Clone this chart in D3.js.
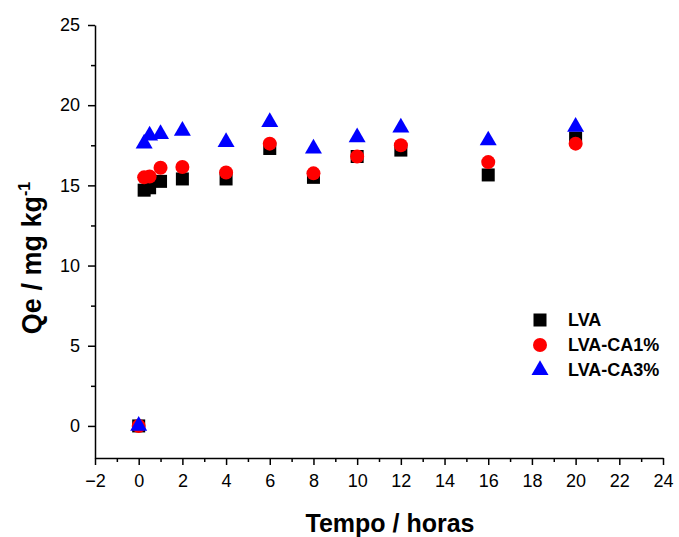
<!DOCTYPE html>
<html>
<head>
<meta charset="utf-8">
<script src="https://cdn.jsdelivr.net/npm/d3@7"></script>
<style>
  body { margin: 0; background: #fff; }
  svg { display: block; font-family: Arial, "Liberation Sans", sans-serif; }
  .axis path, .axis line { stroke: #000; stroke-width: 1.5; }
  .axis text { font-size: 18px; fill: #000; }
</style>
</head>
<body>
<div id="chart"></div>
<script>
// tempo (horas)
const tempo = [0, 0.25, 0.5, 1, 2, 4, 6, 8, 10, 12, 16, 20];
// Qe (mg/kg) por amostra
const lva    = [0, 14.7, 14.85, 15.25, 15.4, 15.4, 17.3, 15.5, 16.8, 17.2, 15.65, 17.95];
const lvaCa1 = [0, 15.5, 15.55, 16.1, 16.15, 15.8, 17.6, 15.75, 16.8, 17.5, 16.45, 17.6];
const lvaCa3 = [0, 17.6, 18.1, 18.2, 18.4, 17.7, 18.95, 17.3, 18.0, 18.6, 17.8, 18.65];
const seriesNames = ['LVA', 'LVA-CA1%', 'LVA-CA3%'];
const xTicks = d3.range(-2, 25, 2);
const yTicks = [0, 5, 10, 15, 20, 25];

const W = 679, H = 537;
const margin = {top: 25, right: 16, bottom: 79, left: 95};
const width = W - margin.left - margin.right;
const height = H - margin.top - margin.bottom;

const svg = d3.select('#chart').append('svg')
    .attr('width', W)
    .attr('height', H);

const g = svg.append('g')
    .attr('transform', `translate(${margin.left},${margin.top})`);

const x = d3.scaleLinear().domain([-2, 24]).range([0, width]);
const y = d3.scaleLinear().domain([-2, 25]).range([height, 0]);

// minor ticks first
g.append('g')
    .attr('class', 'axis')
    .attr('transform', `translate(0,${height})`)
    .call(d3.axisBottom(x).tickValues(d3.range(-1, 24, 2)).tickSize(4).tickFormat(''))
    .select('.domain').remove();
g.append('g')
    .attr('class', 'axis')
    .call(d3.axisLeft(y).tickValues(d3.range(2.5, 25, 5)).tickSize(4).tickFormat(''))
    .select('.domain').remove();

g.append('g')
    .attr('class', 'axis')
    .attr('transform', `translate(0,${height})`)
    .call(d3.axisBottom(x).tickValues(xTicks).tickSize(7).tickPadding(9).tickSizeOuter(0));

g.append('g')
    .attr('class', 'axis')
    .call(d3.axisLeft(y).tickValues(yTicks).tickSize(7).tickPadding(8).tickSizeOuter(0));

// axis titles
svg.append('text')
    .attr('x', 390)
    .attr('y', 532)
    .attr('text-anchor', 'middle')
    .style('font-size', '25px')
    .style('font-weight', 'bold')
    .text('Tempo / horas');

const yTitle = svg.append('text')
    .attr('transform', 'translate(41,258) rotate(-90)')
    .attr('text-anchor', 'middle')
    .style('font-size', '27px')
    .style('font-weight', 'bold');
yTitle.append('tspan').text('Qe / mg kg');
yTitle.append('tspan').attr('dy', -11).style('font-size', '16px').text('-1');

// markers
const sq = 13;
g.selectAll('rect.lva')
    .data(tempo.map((t, i) => ({t, v: lva[i]})))
    .enter().append('rect')
    .attr('class', 'lva')
    .attr('x', d => x(d.t) - sq / 2)
    .attr('y', d => y(d.v) - sq / 2)
    .attr('width', sq)
    .attr('height', sq)
    .attr('fill', '#000');

g.selectAll('circle.ca1')
    .data(tempo.map((t, i) => ({t, v: lvaCa1[i]})))
    .enter().append('circle')
    .attr('class', 'ca1')
    .attr('cx', d => x(d.t))
    .attr('cy', d => y(d.v))
    .attr('r', 7)
    .attr('fill', '#ff0000');

const tri = d3.symbol().type(d3.symbolTriangle).size(125);
g.selectAll('path.ca3')
    .data(tempo.map((t, i) => ({t, v: lvaCa3[i]})))
    .enter().append('path')
    .attr('class', 'ca3')
    .attr('d', tri)
    .attr('transform', d => `translate(${x(d.t)},${y(d.v)})`)
    .attr('fill', '#0000ff');

// legenda
const legend = svg.append('g').attr('transform', 'translate(540,320)');
const colors = ['#000', '#ff0000', '#0000ff'];
seriesNames.forEach((name, i) => {
    const row = legend.append('g').attr('transform', `translate(0,${i * 25})`);
    if (i === 0) {
        row.append('rect').attr('x', -6.5).attr('y', -6.5).attr('width', sq).attr('height', sq).attr('fill', colors[i]);
    } else if (i === 1) {
        row.append('circle').attr('r', 7).attr('fill', colors[i]);
    } else {
        row.append('path').attr('d', tri).attr('fill', colors[i]);
    }
    row.append('text')
        .attr('x', 28)
        .attr('dy', '0.36em')
        .style('font-size', '18px')
        .style('font-weight', 'bold')
        .text(name);
});
</script>
</body>
</html>
